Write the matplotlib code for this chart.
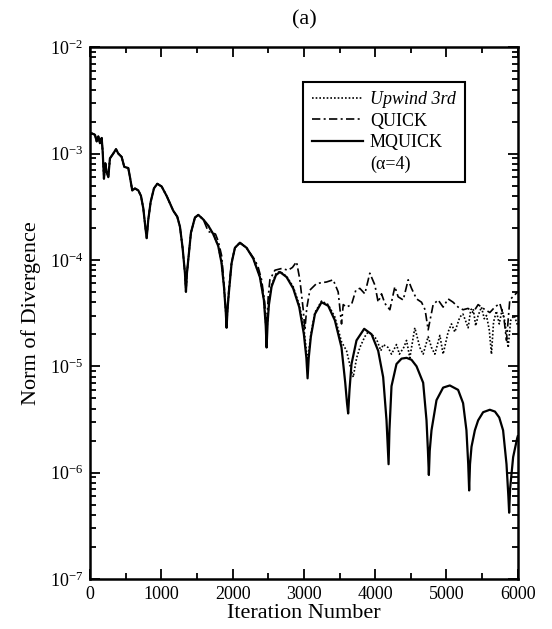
import matplotlib
matplotlib.use('Agg')
import matplotlib.pyplot as plt
from matplotlib.lines import Line2D
from matplotlib.ticker import MultipleLocator, LogLocator, NullFormatter

plt.rcParams['font.family'] = ['Liberation Serif', 'DejaVu Serif']
plt.rcParams['mathtext.fontset'] = 'stix'

# MQUICK (alpha=4)
it_mq = [0, 24, 70, 94, 117, 140, 164, 178, 196, 215, 234, 257, 280, 304, 327, 365, 397, 444, 481, 537,
         561, 593, 631, 678, 715, 748, 771, 795, 818, 851, 897, 944, 1005, 1075, 1122, 1168, 1224, 1262, 1299, 1332,
         1346, 1360, 1378, 1416, 1472, 1519, 1589, 1659, 1729, 1799, 1846, 1880, 1905, 1916, 1930, 1949, 1986, 2033, 2103, 2196,
         2290, 2383, 2439, 2465, 2477, 2492, 2510, 2547, 2608, 2664, 2757, 2850, 2935, 3000, 3035, 3052, 3068, 3098, 3155, 3248,
         3341, 3435, 3528, 3580, 3605, 3621, 3640, 3668, 3738, 3846, 3949, 4042, 4112, 4159, 4175, 4188, 4200, 4229, 4299, 4370,
         4440, 4510, 4580, 4673, 4720, 4740, 4753, 4765, 4790, 4860, 4953, 5047, 5163, 5233, 5280, 5305, 5318, 5330, 5351, 5398,
         5444, 5514, 5608, 5680, 5740, 5794, 5842, 5868, 5879, 5892, 5935, 5991, 6000]
nd_mq = [1.5e-3, 1.55e-3, 1.5e-3, 1.3e-3, 1.45e-3, 1.25e-3, 1.4e-3, 1.05e-3, 5.8e-4, 8.1e-4, 6.7e-4, 6.0e-4, 9.0e-4, 9.5e-4, 1.0e-3, 1.1e-3, 1.0e-3, 9.3e-4, 7.5e-4, 7.3e-4,
         6.0e-4, 4.5e-4, 4.7e-4, 4.5e-4, 4.0e-4, 3.05e-4, 2.2e-4, 1.6e-4, 2.4e-4, 3.5e-4, 4.7e-4, 5.2e-4, 4.9e-4, 4.0e-4, 3.4e-4, 2.9e-4, 2.55e-4, 2.05e-4, 1.3e-4, 7.5e-5,
         5.0e-5, 7.5e-5, 1.0e-4, 1.8e-4, 2.5e-4, 2.65e-4, 2.4e-4, 2.1e-4, 1.75e-4, 1.35e-4, 9.3e-5, 5.5e-5, 3.2e-5, 2.3e-5, 3.5e-5, 5.0e-5, 9.3e-5, 1.3e-4, 1.45e-4, 1.3e-4,
         1.03e-4, 6.9e-5, 4.2e-5, 2.4e-5, 1.5e-5, 2.6e-5, 3.8e-5, 5.6e-5, 7.2e-5, 7.7e-5, 6.9e-5, 5.4e-5, 3.6e-5, 2.0e-5, 1.2e-5, 7.7e-6, 1.2e-5, 1.9e-5, 3.1e-5, 4.0e-5,
         3.7e-5, 2.7e-5, 1.5e-5, 7.0e-6, 4.5e-6, 3.6e-6, 6.0e-6, 1.05e-5, 1.75e-5, 2.25e-5, 2.0e-5, 1.4e-5, 7.9e-6, 3.1e-6, 1.8e-6, 1.2e-6, 2.5e-6, 6.5e-6, 1.05e-5, 1.18e-5,
         1.2e-5, 1.15e-5, 1.0e-5, 7.0e-6, 3.1e-6, 1.6e-6, 9.5e-7, 1.6e-6, 2.5e-6, 4.8e-6, 6.3e-6, 6.6e-6, 6.0e-6, 4.5e-6, 2.5e-6, 1.2e-6, 6.8e-7, 1.2e-6, 1.75e-6, 2.5e-6,
         3.1e-6, 3.7e-6, 3.9e-6, 3.75e-6, 3.3e-6, 2.5e-6, 1.2e-6, 6.0e-7, 4.2e-7, 7.0e-7, 1.4e-6, 2.1e-6, 2.2e-6]

# QUICK: same history as MQUICK up to ~1700 iterations
it_qk = it_mq[:48] + [1760, 1799, 1846, 1880, 1916, 1949, 1986, 2033, 2103, 2196, 2250, 2313, 2360, 2407, 2450, 2477, 2500, 2523, 2594, 2687,
                      2780, 2840, 2897, 2944, 2991, 3014, 3040, 3084, 3178, 3318, 3411, 3481, 3528, 3552, 3598, 3668, 3729, 3785, 3855, 3925,
                      3996, 4042, 4089, 4136, 4206, 4276, 4322, 4393, 4463, 4510, 4580, 4650, 4700, 4743, 4813, 4883, 4953, 5023, 5093, 5163,
                      5233, 5303, 5374, 5444, 5514, 5608, 5678, 5748, 5804, 5842, 5888, 5958, 6000]
nd_qk = nd_mq[:47] + [1.85e-4, 1.75e-4, 1.5e-4, 1.1e-4, 6.0e-5, 2.6e-5, 5.5e-5, 9.5e-5, 1.3e-4, 1.45e-4, 1.3e-4, 1.15e-4, 1.0e-4, 8.5e-5, 6.5e-5, 4.0e-5, 2.3e-5, 4.5e-5, 6.5e-5, 8.0e-5, 8.3e-5,
                      8.0e-5, 8.5e-5, 9.6e-5, 6.5e-5, 3.4e-5, 2.2e-5, 3.5e-5, 5.2e-5, 6.0e-5, 6.2e-5, 6.5e-5, 5.0e-5, 2.5e-5, 3.8e-5, 3.6e-5, 3.8e-5, 5.2e-5, 5.4e-5, 4.8e-5, 7.5e-5,
                      5.8e-5, 4.0e-5, 4.8e-5, 3.9e-5, 3.4e-5, 5.6e-5, 4.5e-5, 4.2e-5, 6.5e-5, 5.4e-5, 4.3e-5, 4.0e-5, 3.4e-5, 2.2e-5, 3.8e-5, 4.2e-5, 3.6e-5, 4.3e-5, 4.0e-5, 3.6e-5,
                      3.4e-5, 3.5e-5, 3.2e-5, 3.8e-5, 3.5e-5, 3.2e-5, 3.6e-5, 3.9e-5, 2.9e-5, 1.75e-5, 4.2e-5, 4.7e-5, 5.0e-5]

# Upwind 3rd: same as MQUICK up to ~2440 iterations
it_up = it_mq[:63] + [2477, 2510, 2547, 2608, 2664, 2757, 2850, 2935, 3000, 3052, 3098, 3155, 3248, 3341, 3435, 3500, 3528, 3598, 3650, 3692,
                      3740, 3785, 3855, 3900, 3949, 4019, 4080, 4112, 4182, 4229, 4299, 4340, 4400, 4440, 4486, 4556, 4627, 4673, 4743, 4790,
                      4837, 4907, 4953, 5023, 5070, 5117, 5187, 5230, 5257, 5304, 5340, 5374, 5410, 5444, 5491, 5530, 5561, 5600, 5631, 5660,
                      5700, 5740, 5780, 5820, 5865, 5900, 5950, 6000]
nd_up = nd_mq[:63] + [2.0e-5, 4.0e-5, 5.8e-5, 7.4e-5, 7.8e-5, 7.0e-5, 5.6e-5, 3.8e-5, 2.3e-5, 1.1e-5, 2.0e-5, 3.2e-5, 4.1e-5, 3.8e-5, 2.9e-5, 2.0e-5, 1.7e-5, 1.4e-5, 1.0e-5, 7.9e-6,
                      1.2e-5, 1.5e-5, 1.9e-5, 2.1e-5, 2.0e-5, 1.8e-5, 1.4e-5, 1.6e-5, 1.5e-5, 1.3e-5, 1.6e-5, 1.3e-5, 1.5e-5, 1.75e-5, 1.2e-5, 2.3e-5, 1.5e-5, 1.3e-5, 1.9e-5, 1.5e-5,
                      1.3e-5, 1.95e-5, 1.3e-5, 2.1e-5, 2.5e-5, 2.1e-5, 2.9e-5, 3.1e-5, 2.8e-5, 2.3e-5, 3.4e-5, 3.5e-5, 2.4e-5, 3.0e-5, 3.6e-5, 2.8e-5, 3.0e-5, 2.2e-5, 1.3e-5, 2.6e-5,
                      3.3e-5, 2.5e-5, 3.4e-5, 2.6e-5, 1.5e-5, 2.7e-5, 3.0e-5, 2.4e-5]

fig = plt.figure(figsize=(5.52, 6.29), dpi=100)
ax = fig.add_axes([0.163, 0.0795, 0.775, 0.8455])

ax.plot(it_up, nd_up, color='black', lw=1.2, ls=(0, (1, 1.2)))
ax.plot(it_qk, nd_qk, color='black', lw=1.2, ls=(0, (5, 2, 1.2, 2)))
ax.plot(it_mq, nd_mq, color='black', lw=1.6)

ax.set_yscale('log')
ax.set_xlim(0, 6000)
ax.set_ylim(1e-7, 1e-2)
ax.xaxis.set_major_locator(MultipleLocator(1000))
ax.xaxis.set_minor_locator(MultipleLocator(500))
ax.yaxis.set_minor_locator(LogLocator(base=10, subs=range(2, 10)))
ax.yaxis.set_minor_formatter(NullFormatter())

ax.tick_params(which='both', direction='in', top=True, right=True, width=1.3, labelsize=13)
ax.tick_params(which='major', length=7, pad=5)
ax.tick_params(which='minor', length=4)
for sp in ax.spines.values():
    sp.set_linewidth(1.8)

ax.set_xlabel('Iteration Number', fontsize=16, labelpad=1)
ax.set_ylabel('Norm of Divergence', fontsize=16, labelpad=6)
fig.text(0.551, 0.969, '(a)', ha='center', va='center', fontsize=16)

handles = [Line2D([], [], color='black', lw=1.2, ls=(0, (1, 1.2))),
           Line2D([], [], color='black', lw=1.2, ls=(0, (5, 2, 1.2, 2))),
           Line2D([], [], color='black', lw=1.6),
           Line2D([], [], color='none')]
labels = ['Upwind 3rd', 'QUICK', 'MQUICK', '(α=4)']
leg = ax.legend(handles, labels, loc='upper left', bbox_to_anchor=(0.498, 0.934),
                borderaxespad=0, fontsize=13, handlelength=2.8, handletextpad=0.4,
                labelspacing=0.25, borderpad=0.5, fancybox=False, framealpha=1,
                edgecolor='black')
leg.get_frame().set_linewidth(1.5)
leg.get_texts()[0].set_fontstyle('italic')

fig.savefig('out.png', dpi=100)
